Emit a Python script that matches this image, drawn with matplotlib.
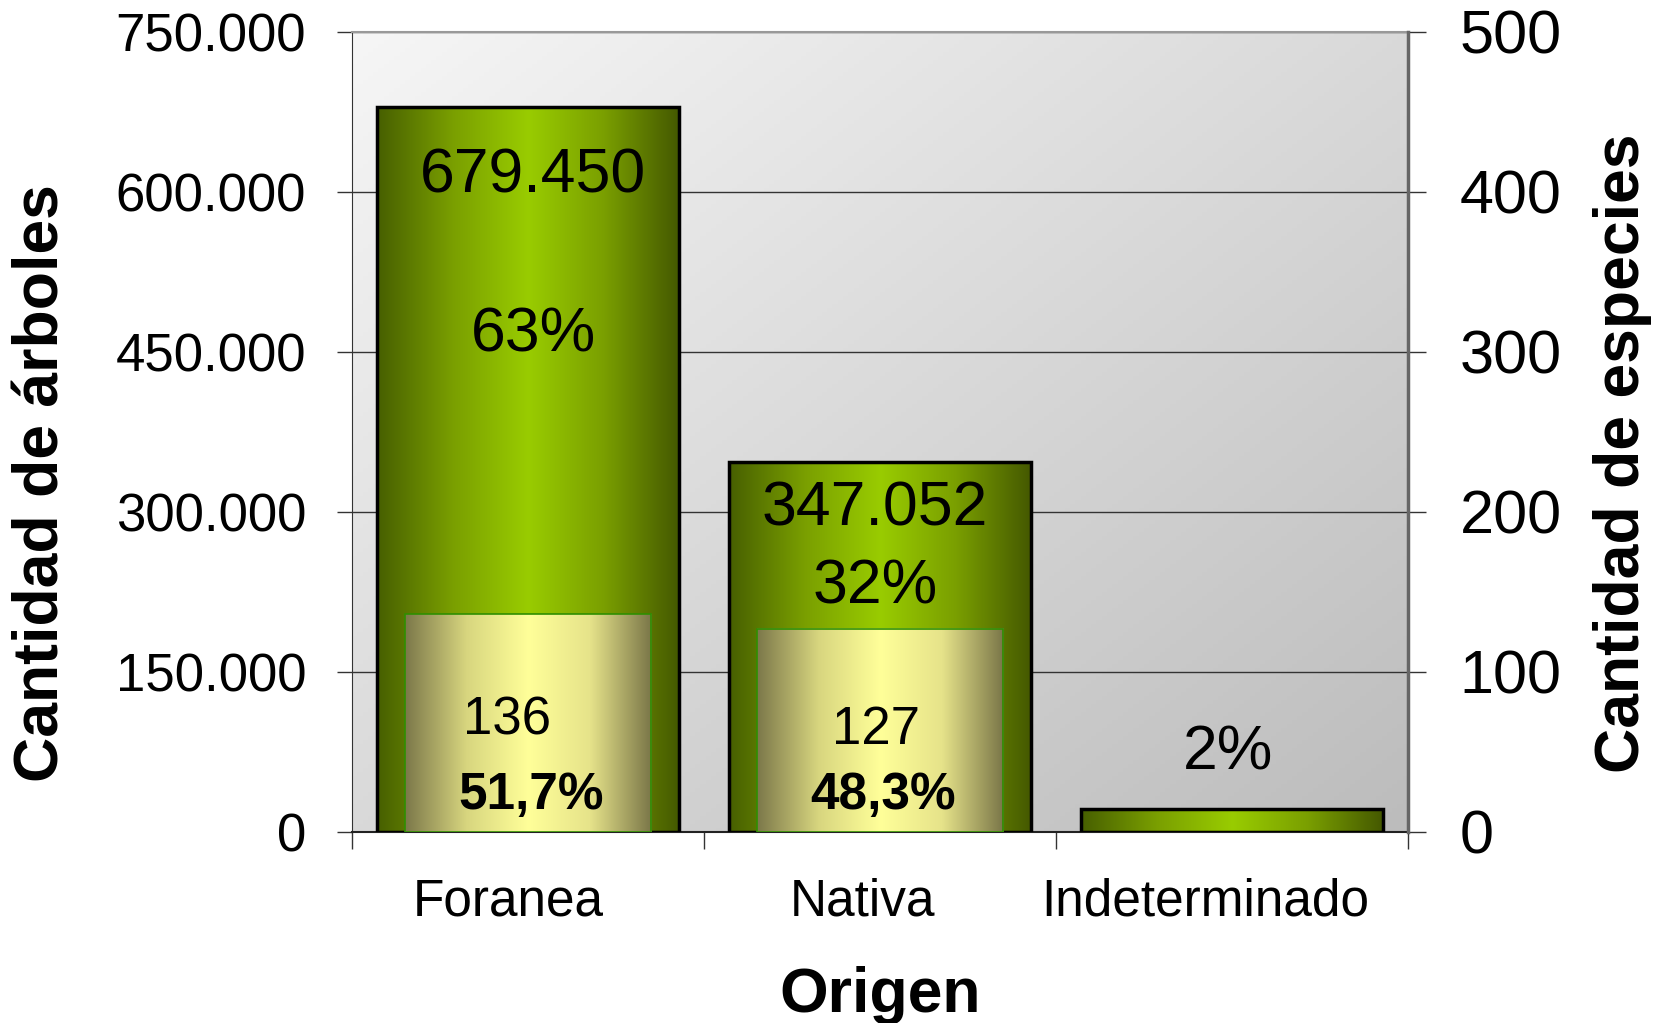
import numpy as np
import matplotlib.pyplot as plt
from matplotlib.colors import LinearSegmentedColormap

plt.rcParams['font.family'] = ['Liberation Sans', 'DejaVu Sans']

# datos
categorias = ["Foranea", "Nativa", "Indeterminado"]
arboles = [679450, 347052, 21600]
arboles_txt = ["679.450", "347.052", ""]
arboles_pct = ["63%", "32%", "2%"]
especies = [136, 127]
especies_pct = ["51,7%", "48,3%"]

# posiciones de las etiquetas (en unidades de cada eje)
y_txt = [615000, 302500, 0]
y_pct = [466000, 229500, 74000]
dx_txt = [0.015, -0.015, -0.01]
y_esp = [69.5, 63.5]
dx_esp = [-0.06, -0.01]
y_esp_pct = [23, 23]

verde = LinearSegmentedColormap.from_list("verde", ["#475f00", "#7a9f00", "#99cc00", "#7a9f00", "#445800"])
amarillo = LinearSegmentedColormap.from_list("amar", ["#7c784a", "#d8d67f", "#ffff99", "#e6e38a", "#7a7648"])
fondo = LinearSegmentedColormap.from_list("fondo", ["#f6f6f6", "#bcbcbc"])
hgrad = np.linspace(0, 1, 256).reshape(1, -1)

fig = plt.figure(figsize=(16.63, 10.23), dpi=100)
ax = fig.add_axes([352/1663, 1 - 832/1023, 1056/1663, 800/1023])
ax2 = ax.twinx()

# fondo degradado
yy, xx = np.mgrid[0:1:200j, 0:1:200j]
ax.imshow((xx + yy) / 2, extent=[0, 1, 0, 1], transform=ax.transAxes,
          cmap=fondo, aspect='auto', zorder=0)

x = np.arange(len(categorias))
bars = ax.bar(x, arboles, width=0.86, facecolor='none', edgecolor='black', linewidth=2.5, zorder=3)
for b in bars:
    ax.imshow(hgrad, extent=[b.get_x(), b.get_x() + b.get_width(), 0, b.get_height()],
              cmap=verde, aspect='auto', zorder=2)

bars2 = ax2.bar(x[:len(especies)], especies, width=0.70, facecolor='none',
                edgecolor='#2f8f00', linewidth=1.2, zorder=3)
for b in bars2:
    ax2.imshow(hgrad, extent=[b.get_x(), b.get_x() + b.get_width(), 0, b.get_height()],
               cmap=amarillo, aspect='auto', zorder=2)

ax.set_xlim(-0.5, 2.5)
ax.set_ylim(0, 750000)
ax2.set_ylim(0, 500)

yt = np.arange(0, 750001, 150000)
ax.set_yticks(yt)
ax.set_yticklabels([f"{v:,}".replace(",", ".") for v in yt], fontsize=38)
ax2.set_yticks(np.arange(0, 501, 100))
ax2.set_yticklabels([str(v) for v in range(0, 501, 100)], fontsize=44)

ax.set_xticks([-0.5, 0.5, 1.5, 2.5])
ax.set_xticklabels([])
ax.set_xticks(x - np.array([0.055, 0.05, 0.075]), minor=True)
ax.set_xticklabels(categorias, minor=True, fontsize=37)
ax.tick_params(axis='x', which='major', direction='out', length=12, color='#333333', width=1)
ax.tick_params(axis='x', which='minor', length=0, pad=33)
ax.tick_params(axis='y', direction='out', length=11, pad=22, color='#333333', width=1)
ax2.tick_params(axis='y', direction='out', length=13, pad=24, color='#333333', width=1)

ax.set_axisbelow(True)
ax.yaxis.grid(True, color='#333333', linewidth=1)

ax.spines['right'].set_visible(False)
ax.spines['top'].set_color('#999999')
ax.spines['top'].set_linewidth(1.5)
ax.spines['left'].set_color('#333333')
ax.spines['bottom'].set_color('#222222')
ax.spines['bottom'].set_linewidth(1.5)
for s in ['left', 'top', 'bottom']:
    ax2.spines[s].set_visible(False)
ax2.spines['right'].set_color('#666666')
ax2.spines['right'].set_linewidth(2.5)

# etiquetas de barras
for i in range(len(categorias)):
    if arboles_txt[i]:
        ax.text(x[i] + dx_txt[i], y_txt[i], arboles_txt[i], ha='center', va='center', fontsize=45, zorder=5)
    ax.text(x[i] + dx_txt[i], y_pct[i], arboles_pct[i], ha='center', va='center', fontsize=45, zorder=5)
for i in range(len(especies)):
    ax2.text(x[i] + dx_esp[i], y_esp[i], str(especies[i]), ha='center', va='center', fontsize=38, zorder=5)
    ax2.text(x[i] + 0.01, y_esp_pct[i], especies_pct[i], ha='center', va='center',
             fontsize=37, fontweight='bold', zorder=5)

fig.text(42/1663, 1 - 483/1023, "Cantidad de árboles", rotation=90, ha='center', va='center',
         fontsize=45, fontweight='bold')
fig.text(1622/1663, 1 - 453/1023, "Cantidad de especies", rotation=90, ha='center', va='center',
         fontsize=45, fontweight='bold')
fig.text(880/1663, 1 - 1012/1023, "Origen", ha='center', va='baseline', fontsize=45, fontweight='bold')

fig.savefig("out.png", dpi=100)
